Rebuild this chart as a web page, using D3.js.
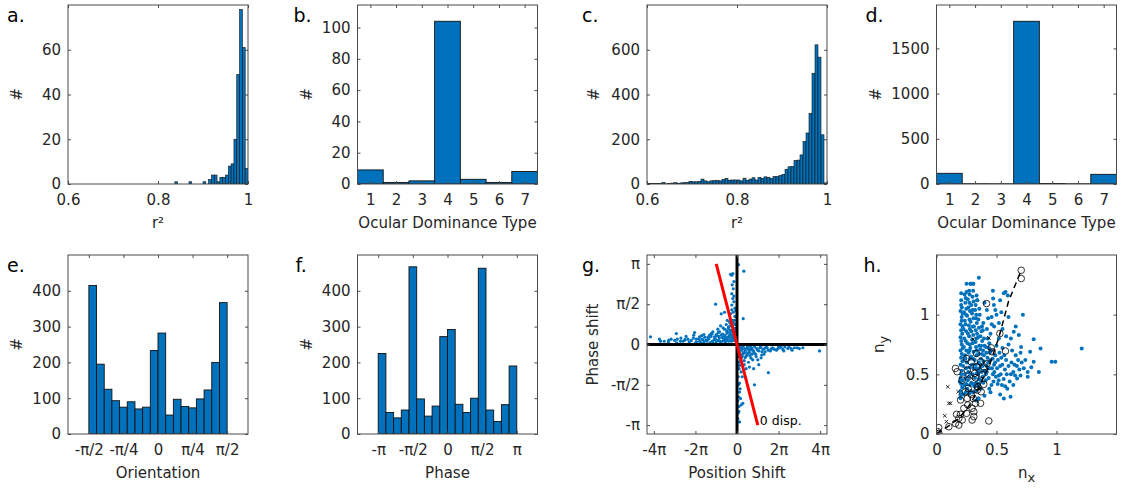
<!DOCTYPE html>
<html>
<head>
<meta charset="utf-8">
<style>
body { margin: 0; background: #fff; }
</style>
</head>
<body>
<script src="https://d3js.org/d3.v7.min.js"></script>
<script>

// ---- data ----
// a. r^2 histogram (bins of 0.00625 starting at 0.8375)
var aBinStart = 0.8375, aBinWidth = 0.00625;
var aCounts = [1,0,0,0,0,1,0,0,0,0,1,0,2,4,4,1,3,3,4,8,9,20,49,78,61,7];
var r2Ticks = [0.6, 0.8, 1], r2Labels = ["0.6", "0.8", "1"];
var aYTicks = [0,20,40,60];

// b. / d. ocular dominance type
var odTypes = [1,2,3,4,5,6,7];
var bCounts = [9,1,2,104,3,1,8];
var bYTicks = [0,20,40,60,80,100];
var dCounts = [118,3,2,1800,5,2,107];
var dYTicks = [0,500,1000,1500];

// c. r^2 histogram (60 bins from 0.6 to 1)
var cBinStart = 0.6, cBinWidth = 0.4 / 60;
var cCounts = [2,2,2,3,2,7,1,3,4,6,
               3,5,6,7,12,10,10,12,22,14,
               10,14,15,16,14,20,25,17,18,18,
               18,14,26,17,22,28,18,30,25,32,
               30,25,33,33,38,43,66,77,78,105,
               107,130,190,228,315,495,622,567,220,5];
var cYTicks = [0,200,400,600];

// e. orientation (18 bins, -pi/2 .. pi/2)
var oriCounts = [415,195,125,93,75,90,70,75,233,282,53,97,77,73,98,123,200,367];
var oriTicks = [-Math.PI/2, -Math.PI/4, 0, Math.PI/4, Math.PI/2];
var oriLabels = ["-π/2", "-π/4", "0", "π/4", "π/2"];

// f. phase (18 bins, -pi .. pi)
var phaseCounts = [225,60,45,67,467,98,50,78,272,292,83,60,100,463,67,35,82,190];
var phaseTicks = [-Math.PI, -Math.PI/2, 0, Math.PI/2, Math.PI];
var phaseLabels = ["-π", "-π/2", "0", "π/2", "π"];
var histYTicks = [0,100,200,300,400];

// g. position shift vs phase shift (both in units of pi)
var gPosX = [-4.16,-3.73,-3.68,-3.28,-3.17,-2.92,-2.88,-2.72,-2.52,-2.36,-2.08,-2.04,-1.96,-1.80,-1.69,-1.59,-1.40,-1.32,-1.24,-1.16,
  -1.08,-1.00,-0.92,-0.84,-0.79,-0.67,-0.60,-0.52,-0.47,-0.41,-0.31,-0.25,-0.15,
  -2.3,-2.0,-1.8,-1.6,-1.5,-1.3,-1.2,-1.1,-1.0,-0.9,-0.85,-0.8,-0.7,-0.65,-0.6,-0.55,-0.5,-0.45,-0.4,-0.35,-0.3,-0.25,-0.2,-0.18,-0.15,-0.1,-0.08,-0.05,
  -2.9,-3.3,-2.6,-1.4,-0.95,-0.75,-0.35,-0.22,
  -0.25,-0.31,-0.20,-0.15,-0.23,-0.18,-0.25,-0.20,-0.15,-0.25,-0.25,-0.18,-0.31,-0.60,-0.76,-1.03,-0.47,-0.36,0.33,0.07,0.30,
  -0.12,-0.10,-0.15,-0.08,-0.20,-0.12,
  0.36,0.68,1.0,1.32,1.64,1.96,2.12,2.44,2.76,3.0,3.17,3.97,0.52,0.68,0.76,1.0,1.16,1.19,1.51,0.84,0.60,0.44,0.20,0.12,0.20,0.12,0.12,0.17,0.20,0.09,0.04,0.12,0.28,0.09,
  0.1,0.2,0.3,0.4,0.5,0.55,0.6,0.7,0.8,0.85,0.9,1.1,1.2,1.4,1.5,1.7,1.8,2.0,2.2,2.3,2.6,0.15,0.25,0.35,0.45,0.3,0.08,0.05,0.1,0.25,0.15,0.08];
var gPhaseY = [0.095,0.066,0.041,0.054,0.066,0.136,0.066,0.041,0.054,0.066,0.116,0.149,0.066,0.095,0.066,0.124,0.066,0.116,0.136,0.157,
  0.095,0.124,0.19,0.157,0.231,0.207,0.19,0.248,0.157,0.219,0.26,0.165,0.157,
  0.03,0.02,0.04,0.03,0.05,0.02,0.04,0.06,0.03,0.05,0.08,0.02,0.04,0.07,0.1,0.03,0.06,0.09,0.04,0.12,0.07,0.1,0.05,0.14,0.08,0.12,0.2,0.06,
  0.02,0.03,0.04,0.09,0.11,0.12,0.18,0.22,
  0.86,0.87,0.88,0.78,0.74,0.69,0.63,0.57,0.53,0.49,0.43,0.40,0.38,0.40,0.38,0.50,0.30,0.28,0.91,0.99,0.32,
  0.3,0.45,0.6,0.35,0.3,0.25,
  -0.05,-0.058,-0.07,-0.05,-0.058,-0.05,-0.03,-0.05,-0.04,-0.05,-0.04,-0.08,-0.11,-0.17,-0.19,-0.19,-0.165,-0.13,-0.35,-0.50,-0.28,-0.30,-0.17,-0.26,-0.34,-0.48,-0.59,-0.67,-0.75,-0.83,-0.92,-0.96,-0.73,-0.77,
  -0.02,-0.04,-0.03,-0.08,-0.03,-0.06,-0.1,-0.04,-0.08,-0.03,-0.12,-0.04,-0.09,-0.03,-0.07,-0.04,-0.06,-0.02,-0.06,-0.03,-0.05,-0.12,-0.15,-0.2,-0.14,-0.1,-0.06,-0.15,-0.22,-0.4,-0.55,-0.65];
// denser band of points hugging the zero line, [position, phase] in pi units
var gBand = [[-2.2,0.05],[-2.1,0.08],[-1.95,0.03],[-1.85,0.07],[-1.75,0.02],[-1.65,0.06],[-1.55,0.09],[-1.45,0.04],[-1.35,0.07],[-1.25,0.1],
  [-1.15,0.02],[-1.05,0.08],[-0.98,0.05],[-0.88,0.1],[-0.82,0.04],[-0.72,0.09],[-0.68,0.13],[-0.62,0.05],[-0.57,0.11],[-0.52,0.08],
  [-0.48,0.14],[-0.43,0.06],[-0.38,0.1],[-0.33,0.15],[-0.28,0.04],[-0.27,0.12],[-0.24,0.18],[-0.2,0.09],[-0.16,0.2],[-0.13,0.05],
  [-0.11,0.16],[-0.07,0.1],[-0.05,0.25],[-2.5,0.06],[-2.7,0.08],[-3.0,0.05],[-3.5,0.04],[-2.45,0.1],[-1.7,0.11],[-1.2,0.13],
  [-0.9,0.15],[-0.5,0.17],[-0.42,0.2],[-0.3,0.23],[-0.18,0.27],[-0.1,0.35],[-0.06,0.42],
  [0.15,-0.03],[0.22,-0.07],[0.32,-0.05],[0.38,-0.1],[0.48,-0.05],[0.58,-0.08],[0.65,-0.03],[0.75,-0.07],[0.82,-0.1],[0.95,-0.05],
  [1.05,-0.08],[1.15,-0.03],[1.25,-0.06],[1.35,-0.09],[1.45,-0.04],[1.6,-0.08],[1.75,-0.05],[1.9,-0.07],[2.05,-0.04],[2.25,-0.08],
  [2.5,-0.03],[2.65,-0.07],[2.9,-0.04],[0.12,-0.09],[0.2,-0.14],[0.28,-0.12],[0.4,-0.16],[0.5,-0.12],[0.62,-0.14],[0.72,-0.12],
  [0.92,-0.15],[0.18,-0.2],[0.1,-0.3],[0.06,-0.4],[0.35,-0.25],[0.55,-0.22],[0.07,-0.5],[0.04,-0.7],[0.06,-0.85],[1.3,-0.12],
  [1.05,-0.25],[0.8,-0.3]];
var gRedX = [-1, 1], gRedY = [1, -1];
var gXTicks = [-4,-2,0,2,4], gXLabels = ["-4π","-2π","0","2π","4π"];
var gYTicks = [-1,-0.5,0,0.5,1], gYLabels = ["-π","-π/2","0","π/2","π"];

// h. n_x vs n_y
var hBlueX = [0.2,0.2,0.205,0.2,0.21,0.2,0.205,0.2,0.21,0.2,0.205,0.2,0.21,0.2,0.205,
  0.225,0.23,0.235,0.222,0.238,0.228,0.232,0.225,0.236,0.229,0.24,0.234,
  0.255,0.26,0.265,0.252,0.268,0.258,0.262,0.27,0.255,0.266,0.26,0.272,0.283,
  0.285,0.29,0.28,0.295,0.288,0.282,0.297,0.29,0.284,0.296,0.289,0.3,0.306,
  0.315,0.32,0.33,0.318,0.335,0.325,0.338,0.312,0.33,0.322,0.339,0.353,0.345,
  0.355,0.36,0.37,0.365,0.38,0.375,0.39,0.36,0.385,0.395,0.4,0.37,
  0.41,0.42,0.43,0.415,0.44,0.45,0.46,0.472,0.478,0.49,0.44,0.47,0.48,0.49,0.455,0.5,0.42,0.43,0.45,
  0.51,0.52,0.53,0.54,0.55,0.56,0.57,0.58,0.59,0.561,0.617,0.6,0.561,0.575,0.594,0.55,0.52,0.53,
  0.62,0.64,0.644,0.65,0.66,0.672,0.686,0.7,0.705,0.72,0.727,0.68,0.63,0.71,
  0.78,0.81,0.81,0.853,0.867,0.96,0.99,1.21,0.76,0.79,
  0.2,0.194,0.35,0.4,0.33,0.25,0.306,0.283,0.206,0.25,0.339];
var hBlueY = [0.3,0.36,0.42,0.47,0.53,0.58,0.64,0.7,0.75,0.81,0.87,0.92,0.98,1.03,1.08,
  0.33,0.41,0.5,0.57,0.66,0.73,0.8,0.88,0.95,1.02,1.1,1.17,
  0.38,0.45,0.52,0.6,0.68,0.76,0.84,0.91,0.99,1.06,1.13,1.2,1.26,
  0.36,0.43,0.51,0.58,0.65,0.72,0.79,0.86,0.94,1.01,1.08,1.15,1.26,
  0.4,0.47,0.55,0.62,0.7,0.77,0.84,0.9,0.97,1.04,1.12,1.31,0.5,
  0.42,0.55,0.63,0.71,0.78,0.86,0.93,1.0,0.48,0.66,0.74,0.38,
  0.45,0.52,0.6,0.68,0.76,0.84,0.92,1.135,1.08,1.04,0.38,0.5,0.58,0.66,0.7,0.74,0.88,0.97,0.35,
  0.42,0.49,0.57,0.64,0.72,0.46,0.54,0.62,0.38,0.298,0.312,0.98,1.18,1.19,1.16,0.88,0.8,0.33,
  0.5,0.41,0.856,0.58,0.66,0.466,0.83,0.49,0.73,1.0,0.55,0.62,0.7,0.6,
  0.69,0.795,0.605,0.52,0.717,0.605,0.605,0.717,0.52,0.56,
  0.326,0.438,0.3,0.32,0.28,1.26,1.26,1.26,1.18,1.19,1.12];
// further points filling the dense part of the cloud, [n_x, n_y]
var hBlueMore = [[0.203,0.33],[0.214,0.39],[0.218,0.45],[0.207,0.5],[0.216,0.61],[0.211,0.67],[0.219,0.72],[0.206,0.78],[0.214,0.84],[0.217,0.9],
  [0.209,0.95],[0.218,1.01],[0.212,1.06],[0.206,1.12],
  [0.244,0.35],[0.248,0.42],[0.243,0.47],[0.247,0.55],[0.241,0.63],[0.249,0.7],[0.244,0.78],[0.247,0.86],[0.242,0.92],[0.246,1.0],[0.249,1.05],[0.243,1.14],
  [0.274,0.34],[0.278,0.41],[0.273,0.48],[0.276,0.56],[0.279,0.63],[0.274,0.7],[0.277,0.75],[0.272,0.82],[0.278,0.88],[0.275,0.96],[0.279,1.03],[0.274,1.1],[0.276,1.17],
  [0.303,0.35],[0.307,0.42],[0.302,0.5],[0.308,0.55],[0.304,0.63],[0.309,0.69],[0.301,0.76],[0.306,0.83],[0.303,0.9],[0.308,0.97],[0.302,1.04],[0.309,1.11],[0.305,1.2],
  [0.328,0.36],[0.332,0.43],[0.336,0.51],[0.327,0.58],[0.334,0.66],[0.329,0.73],[0.333,0.8],[0.327,0.87],[0.336,0.93],[0.331,1.0],[0.326,1.08],[0.334,1.16],
  [0.348,0.4],[0.352,0.46],[0.346,0.53],[0.353,0.6],[0.349,0.67],[0.356,0.74],[0.347,0.81],[0.354,0.89],[0.349,0.96],[0.357,1.05],
  [0.37,0.45],[0.375,0.52],[0.368,0.58],[0.378,0.67],[0.372,0.74],[0.366,0.82],[0.379,0.9],[0.383,0.57],[0.39,0.43],[0.398,0.53],
  [0.392,0.61],[0.388,0.7],[0.396,0.8],[0.386,0.87],
  [0.41,0.5],[0.418,0.57],[0.425,0.64],[0.412,0.73],[0.428,0.8],[0.435,0.47],[0.44,0.55],[0.448,0.62],[0.445,0.68],[0.437,0.72],
  [0.458,0.41],[0.462,0.55],[0.468,0.63],[0.475,0.44],[0.482,0.52],[0.488,0.6],[0.495,0.48],[0.505,0.55],[0.512,0.62],[0.518,0.45],
  [0.525,0.68],[0.535,0.5],[0.545,0.41],[0.548,0.58],[0.565,0.66],[0.572,0.4],[0.585,0.5],[0.6,0.57],[0.61,0.44],[0.625,0.6],
  [0.64,0.52],[0.655,0.49],[0.67,0.57],[0.69,0.54],[0.74,0.62],[0.76,0.48],
  [0.46,0.98],[0.48,0.9],[0.5,1.0],[0.52,0.93],[0.54,1.02],[0.58,0.82],[0.6,0.75],[0.62,0.8],[0.66,0.9],[0.7,0.68],
  [0.53,1.12],[0.47,1.2],[0.42,1.04],[0.4,1.1]];
var hCircX = [0.706,0.706,0.417,0.528,0.575,0.456,0.464,0.333,0.25,0.289,0.367,0.394,0.422,0.333,0.158,0.172,0.256,0.317,0.381,0.214,
  0.325,0.394,0.344,0.264,0.242,0.289,0.339,0.372,0.306,0.325,0.256,0.2,0.228,0.261,0.297,0.311,0.25,0.2,0.167,0.186,
  0.214,0.158,0.186,0.103,0.311,0.297,0.436,0.367,0.019,0.011,0.019];
var hCircY = [1.372,1.303,1.093,0.842,0.695,0.722,0.689,0.675,0.633,0.605,0.605,0.563,0.591,0.563,0.55,0.522,0.536,0.508,0.499,0.452,
  0.471,0.416,0.396,0.382,0.354,0.332,0.368,0.354,0.298,0.257,0.298,0.285,0.215,0.243,0.215,0.187,0.173,0.165,0.165,0.131,
  0.117,0.089,0.075,0.061,0.145,0.117,0.109,0.257,0.053,0.02,0.006];
var hCrossX = [0.094,0.181,0.103,0.117,0.069,0.083,0.306,0.436,0.289,0.256,0.339];
var hCrossY = [0.396,0.354,0.257,0.257,0.153,0.103,0.795,0.806,0.466,0.48,0.416];
var hFitX = [0, 0.09, 0.186, 0.256, 0.31, 0.367, 0.436, 0.52, 0.60, 0.706];
var hFitY = [0, 0.06, 0.13, 0.215, 0.30, 0.424, 0.563, 0.81, 1.11, 1.372];
var hTicks = [0, 0.5, 1], hLabels = ["0", "0.5", "1"];

// ---- layout ----
var W = 180, H = 179;
var colX = [68, 357.5, 647, 936.5], rowY = [5, 255];
var blue = "#0072BD", ink = "#262626", frame = "#4a4a4a";
var font = "'DejaVu Sans', sans-serif";

var svg = d3.select("body").append("svg")
	.attr("width", 1122)
	.attr("height", 489)
	.attr("font-family", font);

function panel(o) {
	var g = svg.append("g").attr("transform", "translate(" + o.left + "," + o.top + ")");
	var id = "clip_" + o.id;
	g.append("clipPath").attr("id", id)
		.append("rect").attr("width", W).attr("height", H);
	var body = g.append("g").attr("clip-path", "url(#" + id + ")");
	var ax = g.append("g")
		.attr("font-family", font)
		.style("color", ink);

	ax.append("g")
		.attr("transform", "translate(0," + H + ")")
		.call(d3.axisBottom(o.x).tickValues(o.xticks).tickFormat((d, i) => o.xlabels[i]).tickSize(-3).tickPadding(10));
	ax.append("g")
		.call(d3.axisTop(o.x).tickValues(o.xticks).tickFormat("").tickSize(-3));
	ax.append("g")
		.call(d3.axisLeft(o.y).tickValues(o.yticks).tickFormat((d, i) => o.ylabels[i]).tickSize(-3).tickPadding(7));
	ax.append("g")
		.attr("transform", "translate(" + W + ",0)")
		.call(d3.axisRight(o.y).tickValues(o.yticks).tickFormat("").tickSize(-3));
	ax.selectAll(".domain").remove();
	ax.selectAll(".tick line").attr("stroke", frame);
	ax.selectAll("g").attr("font-size", 15).attr("font-family", font);

	ax.append("rect")
		.attr("width", W).attr("height", H)
		.attr("fill", "none")
		.attr("stroke", frame)
		.attr("stroke-width", 1);

	// axis labels
	var xl = g.append("text")
		.attr("x", W / 2).attr("y", H + 44)
		.attr("text-anchor", "middle")
		.attr("font-size", 15).attr("fill", ink);
	if (o.xsub) {
		xl.append("tspan").text(o.xlabel);
		xl.append("tspan").attr("dy", 4).attr("font-size", 13).text(o.xsub);
	} else xl.text(o.xlabel);

	var yl = g.append("text")
		.attr("transform", "translate(" + o.ylabX + "," + (H / 2) + ") rotate(-90)")
		.attr("text-anchor", "middle")
		.attr("font-size", 15).attr("fill", ink);
	if (o.ysub) {
		yl.append("tspan").text(o.ylabel);
		yl.append("tspan").attr("dy", 4).attr("font-size", 13).text(o.ysub);
	} else yl.text(o.ylabel);

	g.append("text")
		.attr("x", o.letterX).attr("y", 17)
		.attr("font-size", 19).attr("fill", "#000")
		.text(o.letter);

	return body;
}

function histBins(body, x, y, start, width, counts, sw) {
	body.selectAll("rect.bar")
		.data(counts.map((c, i) => ({c: c, x0: start + i * width, x1: start + (i + 1) * width})).filter(d => d.c > 0))
		.enter().append("rect")
		.attr("class", "bar")
		.attr("x", d => x(d.x0))
		.attr("width", d => x(d.x1) - x(d.x0))
		.attr("y", d => y(d.c))
		.attr("height", d => y(0) - y(d.c))
		.attr("fill", blue)
		.attr("stroke", "#111")
		.attr("stroke-width", sw);
}

// a.
var xA = d3.scaleLinear().domain([0.6, 1]).range([0, W]);
var yA = d3.scaleLinear().domain([0, 80]).range([H, 0]);
var pA = panel({id: "a", left: colX[0], top: rowY[0], x: xA, y: yA,
	xticks: r2Ticks, xlabels: r2Labels, yticks: aYTicks, ylabels: aYTicks.map(String),
	xlabel: "r²", ylabel: "#", ylabX: -46, letter: "a.", letterX: -61});
histBins(pA, xA, yA, aBinStart, aBinWidth, aCounts, 0.6);

// b.
var xB = d3.scaleLinear().domain([0.5, 7.5]).range([0, W]);
var yB = d3.scaleLinear().domain([0, 114.4]).range([H, 0]);
var pB = panel({id: "b", left: colX[1], top: rowY[0], x: xB, y: yB,
	xticks: odTypes, xlabels: odTypes.map(String), yticks: bYTicks, ylabels: bYTicks.map(String),
	xlabel: "Ocular Dominance Type", ylabel: "#", ylabX: -46, letter: "b.", letterX: -64});
histBins(pB, xB, yB, 0.5, 1, bCounts, 0.9);

// c.
var xC = d3.scaleLinear().domain([0.6, 1]).range([0, W]);
var yC = d3.scaleLinear().domain([0, 800]).range([H, 0]);
var pC = panel({id: "c", left: colX[2], top: rowY[0], x: xC, y: yC,
	xticks: r2Ticks, xlabels: r2Labels, yticks: cYTicks, ylabels: cYTicks.map(String),
	xlabel: "r²", ylabel: "#", ylabX: -48, letter: "c.", letterX: -65});
histBins(pC, xC, yC, cBinStart, cBinWidth, cCounts, 0.6);

// d.
var xD = d3.scaleLinear().domain([0.5, 7.5]).range([0, W]);
var yD = d3.scaleLinear().domain([0, 1980]).range([H, 0]);
var pD = panel({id: "d", left: colX[3], top: rowY[0], x: xD, y: yD,
	xticks: odTypes, xlabels: odTypes.map(String), yticks: dYTicks, ylabels: dYTicks.map(String),
	xlabel: "Ocular Dominance Type", ylabel: "#", ylabX: -56, letter: "d.", letterX: -71});
histBins(pD, xD, yD, 0.5, 1, dCounts, 0.9);

// e.
var xE = d3.scaleLinear().domain([-2.045, 2.045]).range([0, W]);
var yE = d3.scaleLinear().domain([0, 500]).range([H, 0]);
var pE = panel({id: "e", left: colX[0], top: rowY[1], x: xE, y: yE,
	xticks: oriTicks, xlabels: oriLabels, yticks: histYTicks, ylabels: histYTicks.map(String),
	xlabel: "Orientation", ylabel: "#", ylabX: -46, letter: "e.", letterX: -61});
histBins(pE, xE, yE, -Math.PI / 2, Math.PI / oriCounts.length, oriCounts, 0.9);

// f.
var xF = d3.scaleLinear().domain([-4.08, 4.08]).range([0, W]);
var yF = d3.scaleLinear().domain([0, 500]).range([H, 0]);
var pF = panel({id: "f", left: colX[1], top: rowY[1], x: xF, y: yF,
	xticks: phaseTicks, xlabels: phaseLabels, yticks: histYTicks, ylabels: histYTicks.map(String),
	xlabel: "Phase", ylabel: "#", ylabX: -46, letter: "f.", letterX: -62});
histBins(pF, xF, yF, -Math.PI, 2 * Math.PI / phaseCounts.length, phaseCounts, 0.9);

// g.
var xG = d3.scaleLinear().domain([-4.33, 4.33]).range([0, W]);
var yG = d3.scaleLinear().domain([-1.11, 1.11]).range([H, 0]);
var pG = panel({id: "g", left: colX[2], top: rowY[1], x: xG, y: yG,
	xticks: gXTicks, xlabels: gXLabels, yticks: gYTicks, ylabels: gYLabels,
	xlabel: "Position Shift", ylabel: "Phase shift", ylabX: -49, letter: "g.", letterX: -65});
var gPts = gPosX.map((d, i) => [d, gPhaseY[i]]).concat(gBand);
pG.selectAll("circle")
	.data(gPts)
	.enter().append("circle")
	.attr("cx", d => xG(d[0]))
	.attr("cy", d => yG(d[1]))
	.attr("r", 1.6)
	.attr("fill", blue);
pG.append("line")
	.attr("x1", xG(-4.33)).attr("x2", xG(4.33)).attr("y1", yG(0)).attr("y2", yG(0))
	.attr("stroke", "#000").attr("stroke-width", 3);
pG.append("line")
	.attr("x1", xG(0)).attr("x2", xG(0)).attr("y1", yG(-1.11)).attr("y2", yG(1.11))
	.attr("stroke", "#000").attr("stroke-width", 3);
pG.append("line")
	.attr("x1", xG(gRedX[0])).attr("y1", yG(gRedY[0]))
	.attr("x2", xG(gRedX[1])).attr("y2", yG(gRedY[1]))
	.attr("stroke", "#ff0000").attr("stroke-width", 3);
pG.append("text")
	.attr("x", xG(1.1)).attr("y", yG(-1.0))
	.attr("font-size", 12.5).attr("fill", "#000")
	.text("0 disp.");

// h.
var xH = d3.scaleLinear().domain([0, 1.5]).range([0, W]);
var yH = d3.scaleLinear().domain([0, 1.5]).range([H, 0]);
var pH = panel({id: "h", left: colX[3], top: rowY[1], x: xH, y: yH,
	xticks: hTicks, xlabels: hLabels, yticks: hTicks, ylabels: hLabels,
	xlabel: "n", xsub: "x", ylabel: "n", ysub: "y", ylabX: -53, letter: "h.", letterX: -73});
var hPts = hBlueX.map((d, i) => [d, hBlueY[i]]).concat(hBlueMore);
pH.selectAll("circle.pt")
	.data(hPts)
	.enter().append("circle")
	.attr("class", "pt")
	.attr("cx", d => xH(d[0]))
	.attr("cy", d => yH(d[1]))
	.attr("r", 2)
	.attr("fill", blue);
pH.selectAll("circle.ring")
	.data(hCircX)
	.enter().append("circle")
	.attr("class", "ring")
	.attr("cx", d => xH(d))
	.attr("cy", (d, i) => yH(hCircY[i]))
	.attr("r", 3.3)
	.attr("fill", "none")
	.attr("stroke", "#000")
	.attr("stroke-width", 0.8);
pH.selectAll("path.cross")
	.data(hCrossX)
	.enter().append("path")
	.attr("class", "cross")
	.attr("d", d3.symbol().type(d3.symbolX).size(10))
	.attr("transform", (d, i) => "translate(" + xH(d) + "," + yH(hCrossY[i]) + ")")
	.attr("stroke", "#000")
	.attr("stroke-width", 0.8);
pH.append("path")
	.datum(hFitX.map((d, i) => [d, hFitY[i]]))
	.attr("d", d3.line().x(d => xH(d[0])).y(d => yH(d[1])))
	.attr("fill", "none")
	.attr("stroke", "#000")
	.attr("stroke-width", 1.5)
	.attr("stroke-dasharray", "6,4");

</script>
</body>
</html>
